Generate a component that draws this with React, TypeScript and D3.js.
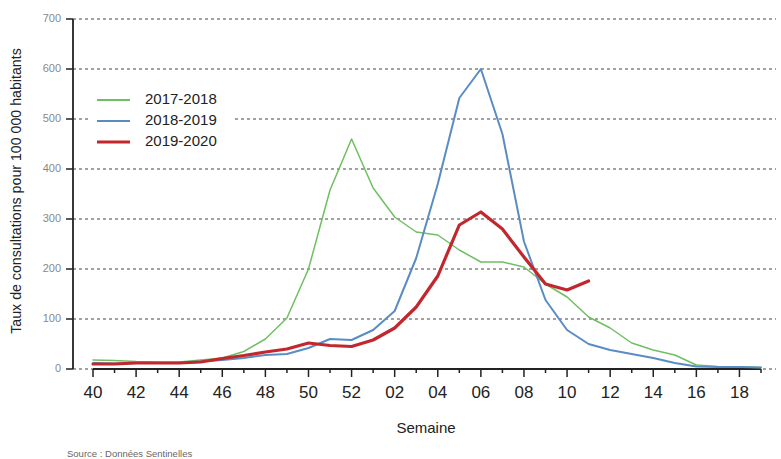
import * as d3 from 'd3';
import React from 'react';

// semaines 40..52 puis 01..19
const weeks = ["40","41","42","43","44","45","46","47","48","49","50","51","52",
  "01","02","03","04","05","06","07","08","09","10","11","12","13","14","15","16","17","18","19"];

const s2017 = [18, 17, 15, 14, 14, 18, 22, 35, 60, 102, 200, 358, 460, 362, 304, 274, 268, 238, 214, 214, 204, 170, 144, 104, 82, 52, 38, 28, 8, 5, 4, 3];
const s2018 = [12, 11, 12, 12, 12, 15, 18, 22, 28, 30, 42, 60, 58, 78, 116, 222, 370, 542, 600, 470, 255, 138, 78, 50, 38, 30, 22, 12, 5, 4, 4, 3];
const s2019 = [10, 10, 12, 12, 12, 14, 21, 27, 34, 40, 52, 47, 45, 58, 82, 124, 186, 288, 314, 280, 224, 170, 158, 176];

const yTicks = [0, 100, 200, 300, 400, 500, 600, 700];

const series = [
  { name: "2017-2018", values: s2017, color: "#6fbf62", width: 1.5 },
  { name: "2018-2019", values: s2018, color: "#5a8cc4", width: 2 },
  { name: "2019-2020", values: s2019, color: "#c1272d", width: 3.2 },
];

function App(): any {
  const width = 781;
  const height = 459;

  const x = d3.scaleLinear().domain([0, weeks.length - 1]).range([93, 761]);
  const y = d3.scaleLinear().domain([0, 700]).range([369, 19]);
  const axisX = 73;

  const line = d3.line<number>()
    .x((d, i) => x(i))
    .y(d => y(d));

  return (
    <svg width={width} height={height}
      style={{ position: "absolute", left: 0, top: 0, background: "#fff", fontFamily: "Liberation Sans, Arial, sans-serif" }}>
      {/* grille */}
      {yTicks.map(t => (
        <g key={"g" + t}>
          <line x1={axisX} x2={776} y1={y(t)} y2={y(t)} stroke="#444" strokeWidth={1.2} strokeDasharray="3,3" />
          <line x1={axisX - 7} x2={axisX} y1={y(t)} y2={y(t)} stroke="#222" strokeWidth={1.5} />
          <text x={axisX - 12} y={y(t)} textAnchor="end" dominantBaseline="middle" fontSize={11} fill="#888">{t}</text>
        </g>
      ))}
      <line x1={axisX} x2={axisX} y1={y(700)} y2={y(0)} stroke="#222" strokeWidth={1.8} />

      {/* axe x */}
      <line x1={x(0)} x2={x(weeks.length - 1)} y1={y(0)} y2={y(0)} stroke="#222" strokeWidth={1.8} />
      {weeks.map((w, i) => (
        <g key={"w" + w}>
          <line x1={x(i)} x2={x(i)} y1={y(0)} y2={y(0) + (i % 2 === 0 ? 8 : 4)} stroke="#222" strokeWidth={1.5} />
          {i % 2 === 0 && (
            <text x={x(i)} y={y(0) + 29} textAnchor="middle" fontSize={17} fill="#222">{w}</text>
          )}
        </g>
      ))}

      {/* séries */}
      {series.map(s => (
        <path key={s.name} d={line(s.values) || ""} fill="none" stroke={s.color}
          strokeWidth={s.width} strokeLinejoin="round" strokeLinecap="round" />
      ))}

      {/* légende */}
      <rect x={88} y={88} width={145} height={66} fill="#fff" />
      {series.map((s, i) => (
        <g key={"l" + s.name} transform={"translate(97," + (100 + i * 21) + ")"}>
          <line x1={0} x2={33} y1={0} y2={0} stroke={s.color} strokeWidth={i === 2 ? 3.2 : 2} />
          <text x={48} y={0} dominantBaseline="middle" fontSize={15} fill="#222">{s.name}</text>
        </g>
      ))}

      <text transform={"translate(21," + 191 + ") rotate(-90)"} textAnchor="middle" fontSize={14.2} fill="#222">
        Taux de consultations pour 100 000 habitants
      </text>
      <text x={426} y={433} textAnchor="middle" fontSize={15} fill="#222">Semaine</text>
      <text x={67} y={457} fontSize={9.5} fill="#666">Source : Données Sentinelles</text>
    </svg>
  );
}

export default App;
